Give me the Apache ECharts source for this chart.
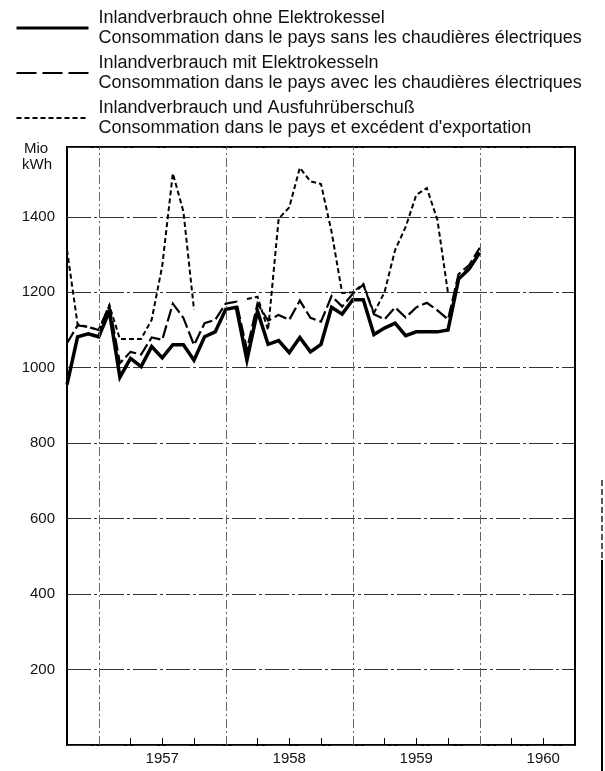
<!DOCTYPE html>
<html><head><meta charset="utf-8">
<script src="https://cdn.jsdelivr.net/npm/echarts@6/dist/echarts.min.js"></script>
<style>html,body{margin:0;padding:0;background:#fff}#c{width:605px;height:771px}</style>
</head><body><div id="c"></div>
<script>
// months counted from October 1956 (index 0) to January 1960 (index 39)
const seriesNames = [
  'Inlandverbrauch ohne Elektrokessel\nConsommation dans le pays sans les chaudières électriques',
  'Inlandverbrauch mit Elektrokesseln\nConsommation dans le pays avec les chaudières électriques',
  'Inlandverbrauch und Ausfuhrüberschuß\nConsommation dans le pays et excédent d\'exportation'
];
const ohneKessel = [955,1082,1090,1082,1150,975,1025,1003,1056,1026,1061,1061,1020,1082,1095,1155,1160,1020,1150,1062,
                    1072,1040,1080,1042,1062,1160,1142,1180,1180,1088,1105,1118,1085,1095,1095,1095,1100,1235,1262,1305];
const mitKessel  = [1065,1112,1108,1100,1165,1012,1042,1035,1080,1074,1170,1132,1060,1118,1127,1170,1175,1048,1170,1125,
                    1140,1127,1178,1132,1122,1190,1162,1196,1220,1142,1128,1160,1133,1160,1172,1152,1128,1248,1272,1318];
const mitAusfuhr = [1312,1115,1108,1100,1165,1076,1076,1076,1127,1270,1515,1414,1154,null,null,null,null,1182,1188,1100,
                    1395,1425,1530,1494,1487,1360,1198,1200,1222,1145,1200,1312,1373,1458,1476,1392,1198,null,null,null];
const yTicks = [200,400,600,800,1000,1200,1400];
const years = [1957,1958,1959,1960];

const FONT = '"Liberation Sans", Arial, sans-serif';
const toPairs = arr => arr.map((v,i) => [i, v === null ? '-' : v]);
const yearStart = y => (y - 1956) * 12 - 9;       // index of January of year y
const labelMap = {};
years.forEach(y => { labelMap[yearStart(y) + 6] = String(y); });

const noSymbol = {color:'rgba(0,0,0,0)', borderColor:'rgba(0,0,0,0)', borderWidth:0, opacity:0};

const chart = echarts.init(document.getElementById('c'), null, {renderer:'canvas'});
chart.setOption({
  animation:false,
  backgroundColor:'#fff',
  textStyle:{fontFamily:FONT},
  legend:{
    orient:'vertical', left:15, top:8, padding:0, itemWidth:72, itemHeight:14, itemGap:5,
    selectedMode:false,
    itemStyle:noSymbol,
    textStyle:{fontSize:18, lineHeight:20, color:'#111', fontFamily:FONT, padding:[0,0,0,5]},
    data:[
      {name:seriesNames[0], itemStyle:noSymbol, lineStyle:{width:3, type:'solid', color:'#000'}},
      {name:seriesNames[1], itemStyle:noSymbol, lineStyle:{width:2.2, type:[20,6], color:'#000'}},
      {name:seriesNames[2], itemStyle:noSymbol, lineStyle:{width:2, type:[5,3], color:'#000'}}
    ]
  },
  grid:{left:67, right:30, top:147, bottom:26, show:true, borderColor:'#000', borderWidth:2, backgroundColor:'transparent'},
  xAxis:{
    type:'value', min:0, max:48, interval:3,
    axisLine:{show:false},
    axisTick:{show:true, inside:true, length:7, lineStyle:{color:'#000', width:1}},
    splitLine:{show:false},
    axisLabel:{show:true, fontSize:15, color:'#111', margin:6, fontFamily:FONT,
      formatter: v => labelMap[v] || ''}
  },
  yAxis:{
    type:'value', min:0, max:1585, interval:200,
    axisLine:{show:false}, axisTick:{show:false},
    axisLabel:{fontSize:15, color:'#111', margin:12, fontFamily:FONT, showMaxLabel:false, showMinLabel:false,
      formatter: v => yTicks.includes(v) ? String(v) : ''},
    splitLine:{show:true, lineStyle:{color:'#333', width:1, type:[24,3,3,3]}}
  },
  graphic:[
    {type:'text', left:24, top:141, style:{text:'Mio', font:'15px '+FONT, fill:'#111'}},
    {type:'text', left:22, top:157, style:{text:'kWh', font:'15px '+FONT, fill:'#111'}},
    {type:'line', shape:{x1:602, y1:480, x2:602, y2:771}, style:{stroke:'#222', lineWidth:1.5, lineDash:[6,3]}},
    {type:'line', shape:{x1:602, y1:560, x2:602, y2:771}, style:{stroke:'#000', lineWidth:2}}
  ],
  series:[
    {name:seriesNames[2], type:'line', data:toPairs(mitAusfuhr), symbol:'none', z:2,
     itemStyle:{color:'#000'},
     lineStyle:{color:'#000', width:2, type:[5,3], join:'miter'},
     markLine:{silent:true, symbol:'none', label:{show:false},
       lineStyle:{color:'#666', width:1, type:[9,3,2,3]},
       data: years.map(y => ({xAxis: yearStart(y)}))}},
    {name:seriesNames[1], type:'line', data:toPairs(mitKessel), symbol:'none', z:3,
     itemStyle:{color:'#000'},
     lineStyle:{color:'#000', width:2.2, type:[13,4], join:'miter'}},
    {name:seriesNames[0], type:'line', data:toPairs(ohneKessel), symbol:'none', z:4,
     itemStyle:{color:'#000'},
     lineStyle:{color:'#000', width:3.5, type:'solid', join:'miter'}}
  ]
});
</script></body></html>
